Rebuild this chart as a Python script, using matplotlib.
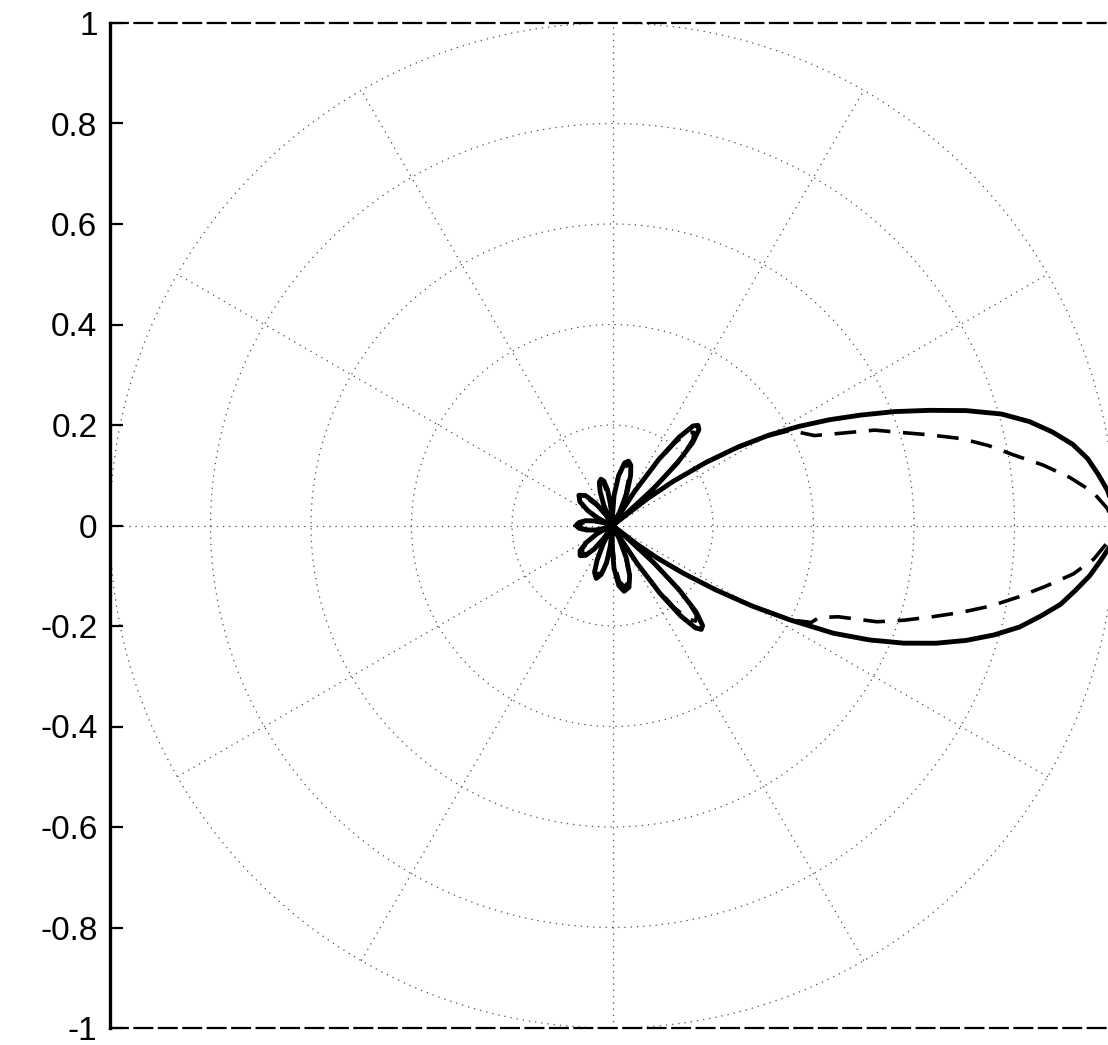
import numpy as np
import matplotlib
matplotlib.use("Agg")
import matplotlib.pyplot as plt

plt.rcParams["font.family"] = ["Liberation Sans", "DejaVu Sans"]
plt.rcParams["axes.unicode_minus"] = False

# Radiation pattern, solid trace: angle (deg) and normalised magnitude
solid_theta = [-180, -175, -170, -165, -160, -157, -155, -152, -147, -142, -137,
               -132, -128, -124, -120, -117, -114, -111, -107, -103, -99, -96,
               -93, -91, -88, -84, -80, -75, -71, -67, -63, -60, -59, -57, -55,
               -53, -51, -49.5, -48, -46, -44, -42, -40, -39, -37.5, -36, -34,
               -32, -30, -28, -26, -24, -22, -20, -18, -16, -14, -12, -10, -8,
               -6, -4, -2, 0, 2, 4, 6, 8, 10, 12, 14, 16, 18, 20, 22, 24, 26,
               28, 30, 32, 34, 36, 37.5, 39, 40, 42, 44, 46, 48, 49.5, 51, 53,
               55, 57, 59, 62, 66, 70, 73, 76, 79, 83, 87, 90, 92, 95, 98, 101,
               104, 107, 110, 113, 116, 118, 122, 127, 132, 138, 144, 149, 153,
               156, 158, 162, 166, 170, 175, 180]
solid_r = [0.072, 0.066, 0.052, 0.035, 0.015, 0.0, 0.015, 0.035, 0.062, 0.082,
           0.088, 0.080, 0.060, 0.030, 0.0, 0.040, 0.075, 0.100, 0.110, 0.100,
           0.075, 0.040, 0.0, 0.040, 0.085, 0.120, 0.133, 0.127, 0.105, 0.070,
           0.030, 0.0, 0.020, 0.090, 0.165, 0.225, 0.262, 0.272, 0.268, 0.240,
           0.185, 0.110, 0.030, 0.0, 0.060, 0.110, 0.170, 0.240, 0.320, 0.400,
           0.489, 0.560, 0.625, 0.685, 0.740, 0.790, 0.835, 0.870, 0.905, 0.930,
           0.955, 0.975, 0.995, 1.0, 0.997, 0.988, 0.972, 0.955, 0.930, 0.895,
           0.855, 0.805, 0.740, 0.670, 0.605, 0.540, 0.480, 0.420, 0.360, 0.295,
           0.225, 0.150, 0.090, 0.0, 0.030, 0.110, 0.180, 0.230, 0.257, 0.262,
           0.255, 0.220, 0.160, 0.080, 0.0, 0.030, 0.070, 0.105, 0.125, 0.132,
           0.127, 0.100, 0.060, 0.020, 0.0, 0.040, 0.072, 0.090, 0.095, 0.090,
           0.072, 0.045, 0.015, 0.0, 0.025, 0.055, 0.080, 0.090, 0.080, 0.057,
           0.033, 0.012, 0.0, 0.018, 0.038, 0.055, 0.067, 0.072]

# Radiation pattern, dashed trace
dashed_theta = [-180, -175, -170, -165, -160, -157, -155, -152, -147, -142, -136,
                -131, -127, -123, -120, -117, -114, -110, -106, -102, -99, -96,
                -93, -90, -87, -83, -79, -75, -71, -67, -63, -60, -59, -57, -55,
                -53, -51, -49, -47, -45, -43, -41, -40, -39, -37.5, -36, -34,
                -32, -30, -28, -26, -24, -22, -20, -18, -16, -14, -12, -10, -8,
                -6, -4, -2, 0, 2, 4, 6, 8, 10, 12, 14, 16, 18, 20, 22, 24, 26,
                28, 30, 32, 34, 36, 37.5, 39, 41, 43, 45, 47, 49, 51, 53, 55,
                57, 59, 60, 63, 67, 71, 74, 77, 80, 84, 88, 91, 93, 96, 99, 102,
                105, 108, 111, 114, 117, 119, 123, 128, 133, 139, 145, 150, 154,
                157, 159, 163, 167, 171, 176, 180]
dashed_r = [0.066, 0.060, 0.048, 0.032, 0.012, 0.0, 0.014, 0.032, 0.058, 0.076,
            0.082, 0.074, 0.055, 0.028, 0.0, 0.036, 0.068, 0.094, 0.102, 0.094,
            0.070, 0.036, 0.0, 0.036, 0.078, 0.112, 0.124, 0.118, 0.098, 0.066,
            0.028, 0.0, 0.018, 0.080, 0.150, 0.205, 0.240, 0.252, 0.245, 0.210,
            0.150, 0.070, 0.020, 0.0, 0.055, 0.105, 0.165, 0.235, 0.315, 0.400,
            0.440, 0.450, 0.485, 0.560, 0.610, 0.660, 0.715, 0.770, 0.820,
            0.870, 0.922, 0.960, 0.985, 1.0, 0.985, 0.958, 0.915, 0.865, 0.810,
            0.765, 0.715, 0.655, 0.600, 0.555, 0.490, 0.440, 0.420, 0.405,
            0.355, 0.290, 0.220, 0.145, 0.085, 0.0, 0.065, 0.140, 0.200, 0.235,
            0.246, 0.238, 0.205, 0.150, 0.075, 0.015, 0.0, 0.028, 0.065, 0.098,
            0.117, 0.124, 0.118, 0.092, 0.055, 0.018, 0.0, 0.036, 0.066, 0.084,
            0.088, 0.083, 0.066, 0.040, 0.012, 0.0, 0.022, 0.050, 0.074, 0.083,
            0.074, 0.052, 0.030, 0.010, 0.0, 0.016, 0.034, 0.050, 0.061, 0.066]

ring_radii = [0.2, 0.4, 0.6, 0.8, 1.0]
spoke_angles = [0, 30, 60, 90, 120, 150]
ytick_values = [-1, -0.8, -0.6, -0.4, -0.2, 0, 0.2, 0.4, 0.6, 0.8, 1]
ytick_labels = ["-1", "-0.8", "-0.6", "-0.4", "-0.2", "0",
                "0.2", "0.4", "0.6", "0.8", "1"]

W, H = 1108, 1045
fig = plt.figure(figsize=(W / 100, H / 100), dpi=100)
ax = fig.add_axes([110 / W, 17 / H, 1005 / W, 1005 / H])
ax.set_xlim(-1, 1)
ax.set_ylim(-1, 1)

# polar grid: rings and spokes
grid_kw = dict(color="0.3", lw=0.9, linestyle=(0, (1, 4)), zorder=1)
phi = np.linspace(0, 2 * np.pi, 721)
for rr in ring_radii:
    ax.plot(rr * np.cos(phi), rr * np.sin(phi), **grid_kw)
for a in spoke_angles:
    t = np.deg2rad(a)
    ax.plot([-np.cos(t), np.cos(t)], [-np.sin(t), np.sin(t)], **grid_kw)


def to_xy(theta_deg, r):
    t = np.deg2rad(np.asarray(theta_deg, dtype=float))
    r = np.asarray(r, dtype=float)
    return r * np.cos(t), r * np.sin(t)


xs, ys = to_xy(solid_theta, solid_r)
ax.plot(xs, ys, color="black", lw=3.5, solid_joinstyle="round", zorder=3)
xd, yd = to_xy(dashed_theta, dashed_r)
ax.plot(xd, yd, color="black", lw=2.6, linestyle=(0, (6, 3.5)), zorder=3)

# axes frame in the classic style
ax.spines["right"].set_visible(False)
ax.spines["left"].set_linewidth(2.4)
for side in ("top", "bottom"):
    ax.spines[side].set_linewidth(1.6)
    ax.spines[side].set_linestyle((0, (8, 3)))

ax.set_xticks([])
ax.set_yticks(ytick_values)
ax.set_yticklabels(ytick_labels)
ax.tick_params(axis="y", direction="in", length=9, width=1.6, pad=9,
               labelsize=24)

fig.savefig("out.png", dpi=100)
